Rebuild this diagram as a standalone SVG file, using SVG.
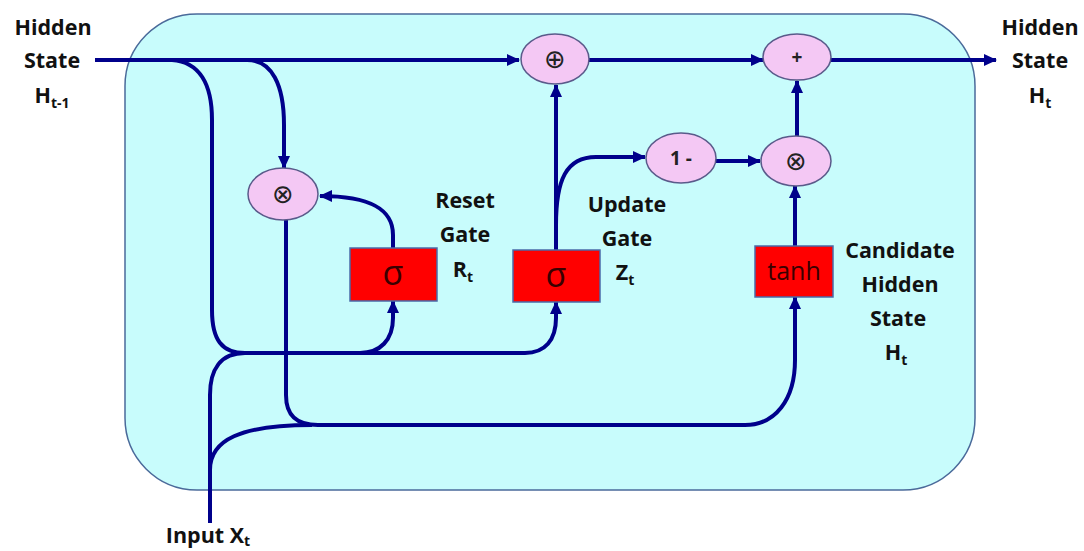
<svg xmlns="http://www.w3.org/2000/svg" width="1084" height="551" viewBox="0 0 1084 551">
<style>
.lbl{font-family:"Open Sans","Liberation Sans",sans-serif;font-weight:bold;font-size:21.5px;fill:#111;text-anchor:middle}
.sub{font-size:14px}
.op{fill:#f4c8f4;stroke:#5a5a8a;stroke-width:1.5}
.gate{fill:#ff0000;stroke:#4a6aa8;stroke-width:1.5}
.sym{font-family:"DejaVu Sans","Liberation Sans",sans-serif;font-size:26px;fill:#222;text-anchor:middle}
.txt{font-family:"Open Sans","Liberation Sans",sans-serif;font-weight:bold;font-size:19px;fill:#222;text-anchor:middle}
.gt{font-family:"Open Sans","Liberation Sans",sans-serif;font-size:34px;fill:#3a0000;text-anchor:middle}
.gt2{font-family:"Open Sans","Liberation Sans",sans-serif;font-size:25px;fill:#3a0000;text-anchor:middle}
.c{fill:none;stroke:#00008b;stroke-width:4}
</style>
<defs>
<marker id="ah" markerUnits="userSpaceOnUse" markerWidth="14" markerHeight="14" refX="12" refY="7" orient="auto">
<path d="M0,1 L13,7 L0,13 z" fill="#00008b"/>
</marker>
</defs>
<rect id="cell" x="125" y="14" width="850" height="476" rx="72" ry="72" fill="#c8fcfc" stroke="#4a6a9a" stroke-width="1.5"/>
<g id="connectors">
<path class="c" d="M95 60 H519" marker-end="url(#ah)"/>
<path class="c" d="M589 60 H763" marker-end="url(#ah)"/>
<path class="c" d="M831 60 H996" marker-end="url(#ah)"/>
<path class="c" d="M247 60 C272 60 284 85 284 125 V168" marker-end="url(#ah)"/>
<path class="c" d="M172 60 C200 62 212 85 212 120 V310 C212 340 222 353 245 353 H525 C545 353 556 340 556 318 V302" marker-end="url(#ah)"/>
<path class="c" d="M360 353 C380 353 393 340 393 318 V301" marker-end="url(#ah)"/>
<path class="c" d="M393 248 V235 C393 210 372 196 320 196" marker-end="url(#ah)"/>
<path class="c" d="M556 250 V85" marker-end="url(#ah)"/>
<path class="c" d="M556 225 C556 180 566 157 596 157 H645" marker-end="url(#ah)"/>
<path class="c" d="M716 161 H760" marker-end="url(#ah)"/>
<path class="c" d="M797 136 V81" marker-end="url(#ah)"/>
<path class="c" d="M795 246 V186" marker-end="url(#ah)"/>
<path class="c" d="M286 220 V395 C286 415 296 425 318 425 H745 C775 425 795 400 795 360 V297" marker-end="url(#ah)"/>
<path class="c" d="M210 523 V395 C210 370 220 353 245 353"/>
<path class="c" d="M210 470 C210 440 240 425 312 425"/>
</g>
<g id="add1"><ellipse class="op" cx="555" cy="59" rx="34" ry="25"/><text class="sym" x="555" y="68">⊕</text></g>
<g id="plus"><ellipse class="op" cx="797" cy="57" rx="34" ry="23"/><text class="txt" x="797" y="64">+</text></g>
<g id="mulR"><ellipse class="op" cx="283" cy="194" rx="35" ry="26"/><text class="sym" x="283" y="203">⊗</text></g>
<g id="oneminus"><ellipse class="op" cx="681" cy="158" rx="35" ry="25"/><text class="txt" x="681" y="165">1 -</text></g>
<g id="mulZ"><ellipse class="op" cx="796" cy="161" rx="35" ry="25"/><text class="sym" x="796" y="170">⊗</text></g>
<g id="resetGate"><rect class="gate" x="350" y="248" width="87" height="53"/><text class="gt" x="393" y="285">σ</text></g>
<g id="updateGate"><rect class="gate" x="513" y="250" width="87" height="52"/><text class="gt" x="556" y="287">σ</text></g>
<g id="tanhGate"><rect class="gate" x="755" y="246" width="78" height="51"/><text class="gt2" x="794" y="280">tanh</text></g>
<g id="labels">
<text class="lbl" x="53" y="35">Hidden</text>
<text class="lbl" x="52" y="68">State</text>
<text class="lbl" x="52" y="103">H<tspan class="sub" dy="5">t-1</tspan></text>
<text class="lbl" x="1040" y="35">Hidden</text>
<text class="lbl" x="1040" y="68">State</text>
<text class="lbl" x="1040" y="103">H<tspan class="sub" dy="5">t</tspan></text>
<text class="lbl" x="465" y="208">Reset</text>
<text class="lbl" x="465" y="242">Gate</text>
<text class="lbl" x="463" y="277">R<tspan class="sub" dy="5">t</tspan></text>
<text class="lbl" x="627" y="212">Update</text>
<text class="lbl" x="627" y="246">Gate</text>
<text class="lbl" x="625" y="280">Z<tspan class="sub" dy="5">t</tspan></text>
<text class="lbl" x="900" y="258">Candidate</text>
<text class="lbl" x="900" y="292">Hidden</text>
<text class="lbl" x="898" y="326">State</text>
<text class="lbl" x="896" y="360">H<tspan class="sub" dy="5">t</tspan></text>
<text class="lbl" x="208" y="543">Input X<tspan class="sub" dy="3">t</tspan></text>
</g>
</svg>
